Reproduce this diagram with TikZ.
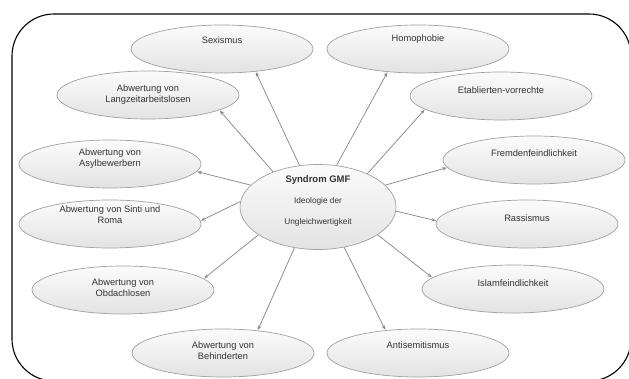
\documentclass[tikz,border=0pt]{standalone}
\usepackage{fontspec}
\setmainfont{Liberation Sans}
\usetikzlibrary{shapes.geometric,arrows.meta}
\definecolor{txtc}{HTML}{333333}
\definecolor{edgec}{HTML}{A0A0A0}
\definecolor{arrc}{HTML}{8A8A8A}
\begin{document}
\begin{tikzpicture}[x=1pt,y=-1pt,
  oval/.style={ellipse, draw=edgec, line width=0.7pt, top color=gray!3, bottom color=gray!22,
    minimum width=182pt, minimum height=48pt, inner sep=0pt},
  txt/.style={text=txtc, font=\fontsize{9.3}{11}\selectfont, align=center, inner sep=0pt},
  arr/.style={draw=arrc, line width=0.75pt, -{Stealth[length=4.5pt,width=3.6pt]}, shorten >=0.5pt}]
\useasboundingbox (0,0) rectangle (629,379);
\begin{scope}
  \clip (0,0) rectangle (629,379);
  \draw[line width=1.1pt, rounded corners=42pt] (12,14) rectangle (631,381);
\end{scope}

% central node
\node[oval, minimum width=156pt, minimum height=85pt,
  label={[txt,name=ctxt,yshift=6pt]center:{\fontsize{9.5}{11}\selectfont\bfseries Syndrom GMF\\[10pt]
  \fontsize{8.3}{11}\selectfont Ideologie der\\[10pt]\fontsize{8.3}{11}\selectfont Ungleichwertigkeit}}] (c) at (318,207) {};

% outer nodes
\node[oval, label={[txt,name=sext,yshift=9pt]center:Sexismus}] (sex) at (222,49) {};
\node[oval, label={[txt,name=homot,yshift=10pt]center:Homophobie}] (homo) at (418,49) {};
\node[oval, label={[txt,name=langt,yshift=0pt]center:Abwertung von\\Langzeitarbeitslosen}] (lang) at (148,95) {};
\node[oval, label={[txt,name=etabt,yshift=6pt]center:Etablierten-vorrechte}] (etab) at (501,96) {};
\node[oval, label={[txt,name=asylt,yshift=5pt]center:Abwertung von\\Asylbewerbern}] (asyl) at (110,164) {};
\node[oval, label={[txt,name=fremdt,yshift=7pt]center:Fremdenfeindlichkeit}] (fremd) at (534,160) {};
\node[oval, label={[txt,name=sintit,yshift=9pt]center:Abwertung von Sinti und\\Roma}] (sinti) at (110,224) {};
\node[oval, label={[txt,name=rasst,yshift=6pt]center:Rassismus}] (rass) at (527,224) {};
\node[oval, label={[txt,name=obdt,yshift=2pt]center:Abwertung von\\Obdachlosen}] (obd) at (123,290) {};
\node[oval, label={[txt,name=islamt,yshift=6pt]center:Islamfeindlichkeit}] (islam) at (513,289) {};
\node[oval, label={[txt,name=beht,yshift=2pt]center:Abwertung von\\Behinderten}] (beh) at (223,353) {};
\node[oval, label={[txt,name=antit,yshift=8pt]center:Antisemitismus}] (anti) at (418,353) {};

% connectors
\draw[arr] (c.114) -- (sex.-34);
\draw[arr] (c.66) -- (homo.217);
\draw[arr] (c.142) -- (lang.-12);
\draw[arr] (c.34) -- (etab.190);
\draw[arr] (c.162) -- (asyl.-5);
\draw[arr] (c.18) -- (fremd.185);
\draw[arr] (c.176) -- (sinti.2);
\draw[arr] (c.357) -- (rass.178);
\draw[arr] (c.205) -- (obd.8);
\draw[arr] (c.335) -- (islam.172);
\draw[arr] (c.240) -- (beh.33);
\draw[arr] (c.303) -- (anti.145);
\end{tikzpicture}
\end{document}
